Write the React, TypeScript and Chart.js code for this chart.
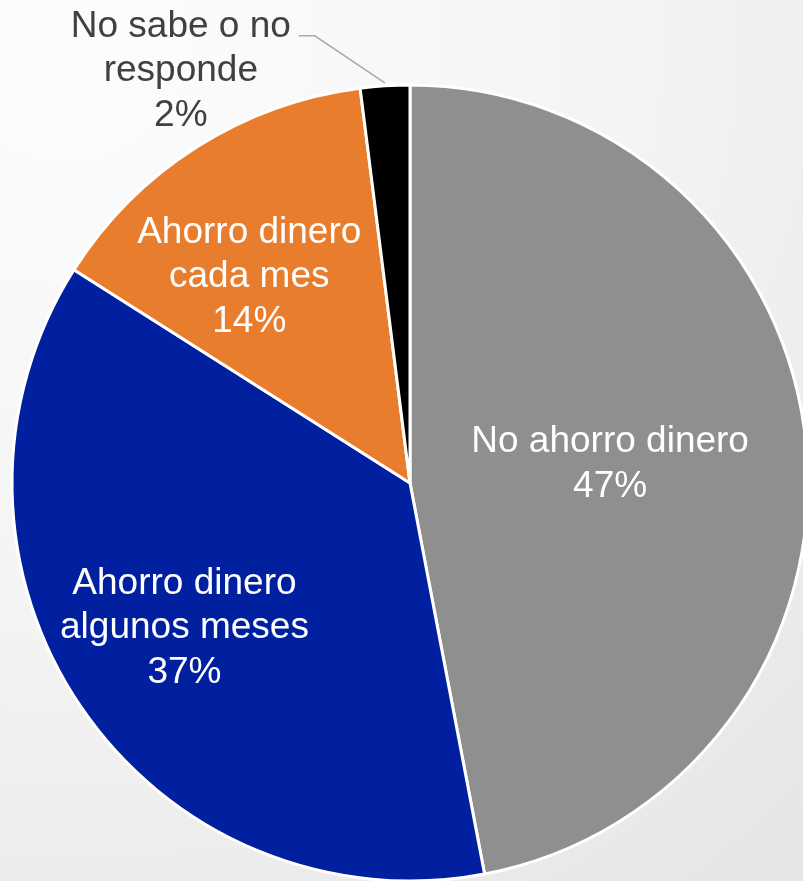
import React, { useEffect, useRef } from "react";
import { Chart, registerables } from "chart.js";

Chart.register(...registerables);

// ---- data ----
const categories: string[][] = [
  ["No ahorro dinero"],
  ["Ahorro dinero", "algunos meses"],
  ["Ahorro dinero", "cada mes"],
  ["No sabe o no", "responde"],
];
const values: number[] = [47, 37, 14, 2];
const percentLabels: string[] = ["47%", "37%", "14%", "2%"];

// ---- styles ----
const sliceColors = ["#8f8f8f", "#00209f", "#e97d2e", "#000000"];

type Placement =
  | { outside: false; f: number; dx: number; dy: number }
  | { outside: true; gap: number; elbow: [number, number]; tail: number; textDx: number; textDy: number };

const placements: Placement[] = [
  { outside: false, f: 0.5, dx: 2, dy: -3 },
  { outside: false, f: 0.67, dx: -5, dy: -8 },
  { outside: false, f: 0.66, dx: -20, dy: 13 },
  { outside: true, gap: 3, elbow: [-70, -47], tail: -16, textDx: -118, textDy: 32 },
];

const labelPlugin = {
  id: "sliceLabels",
  afterDatasetsDraw(chart: any) {
    const ctx: CanvasRenderingContext2D = chart.ctx;
    const meta = chart.getDatasetMeta(0);
    const fs = 37;
    const lh = 44.5;
    const cap = fs * 0.716;
    ctx.save();
    ctx.font = `${fs}px "Liberation Sans", Arial, sans-serif`;
    ctx.textAlign = "center";
    ctx.textBaseline = "alphabetic";
    meta.data.forEach((arc: any, i: number) => {
      const { x, y, startAngle, endAngle, outerRadius } = arc.getProps(
        ["x", "y", "startAngle", "endAngle", "outerRadius"],
        true
      );
      const mid = (startAngle + endAngle) / 2;
      const p = placements[i];
      let cx: number;
      let cy: number;
      if (p.outside) {
        const ex = x + (outerRadius + p.gap) * Math.cos(mid);
        const ey = y + (outerRadius + p.gap) * Math.sin(mid);
        const bx = ex + p.elbow[0];
        const by = ey + p.elbow[1];
        const tx = bx + p.tail;
        ctx.strokeStyle = "#a9a9a9";
        ctx.lineWidth = 1.5;
        ctx.beginPath();
        ctx.moveTo(ex, ey);
        ctx.lineTo(bx, by);
        ctx.lineTo(tx, by);
        ctx.stroke();
        cx = tx + p.textDx;
        cy = by + p.textDy;
        ctx.fillStyle = "#404040";
      } else {
        cx = x + outerRadius * p.f * Math.cos(mid) + p.dx;
        cy = y + outerRadius * p.f * Math.sin(mid) + p.dy;
        ctx.fillStyle = "#ffffff";
      }
      const lines = [...categories[i], percentLabels[i]];
      const n = lines.length;
      lines.forEach((t, k) => {
        const capMid = cy + (k - (n - 1) / 2) * lh;
        ctx.fillText(t, cx, capMid + cap / 2);
      });
    });
    ctx.restore();
  },
};

export default function App() {
  const canvasRef = useRef<HTMLCanvasElement | null>(null);

  useEffect(() => {
    if (!canvasRef.current) return;
    const chart = new Chart(canvasRef.current, {
      type: "pie",
      data: {
        labels: categories.map((c) => c.join(" ")),
        datasets: [
          {
            data: values,
            backgroundColor: sliceColors,
            borderColor: "#ffffff",
            borderWidth: 3,
            hoverOffset: 0,
          },
        ],
      },
      options: {
        responsive: false,
        animation: false,
        radius: 398,
        layout: { padding: 12 },
        plugins: {
          legend: { display: false },
          tooltip: { enabled: false },
        },
        events: [],
      } as any,
      plugins: [labelPlugin],
    });
    return () => chart.destroy();
  }, []);

  return (
    <div
      style={{
        position: "absolute",
        left: 0,
        top: 0,
        width: 803,
        height: 881,
        overflow: "hidden",
        background:
          "radial-gradient(circle farthest-corner at 8% 4%, #fdfdfd 0%, #f4f4f4 50%, #e5e5e5 100%)",
      }}
    >
      <canvas
        ref={canvasRef}
        width={820}
        height={966}
        style={{ position: "absolute", left: 0, top: 0, width: 820, height: 966 }}
      />
    </div>
  );
}
